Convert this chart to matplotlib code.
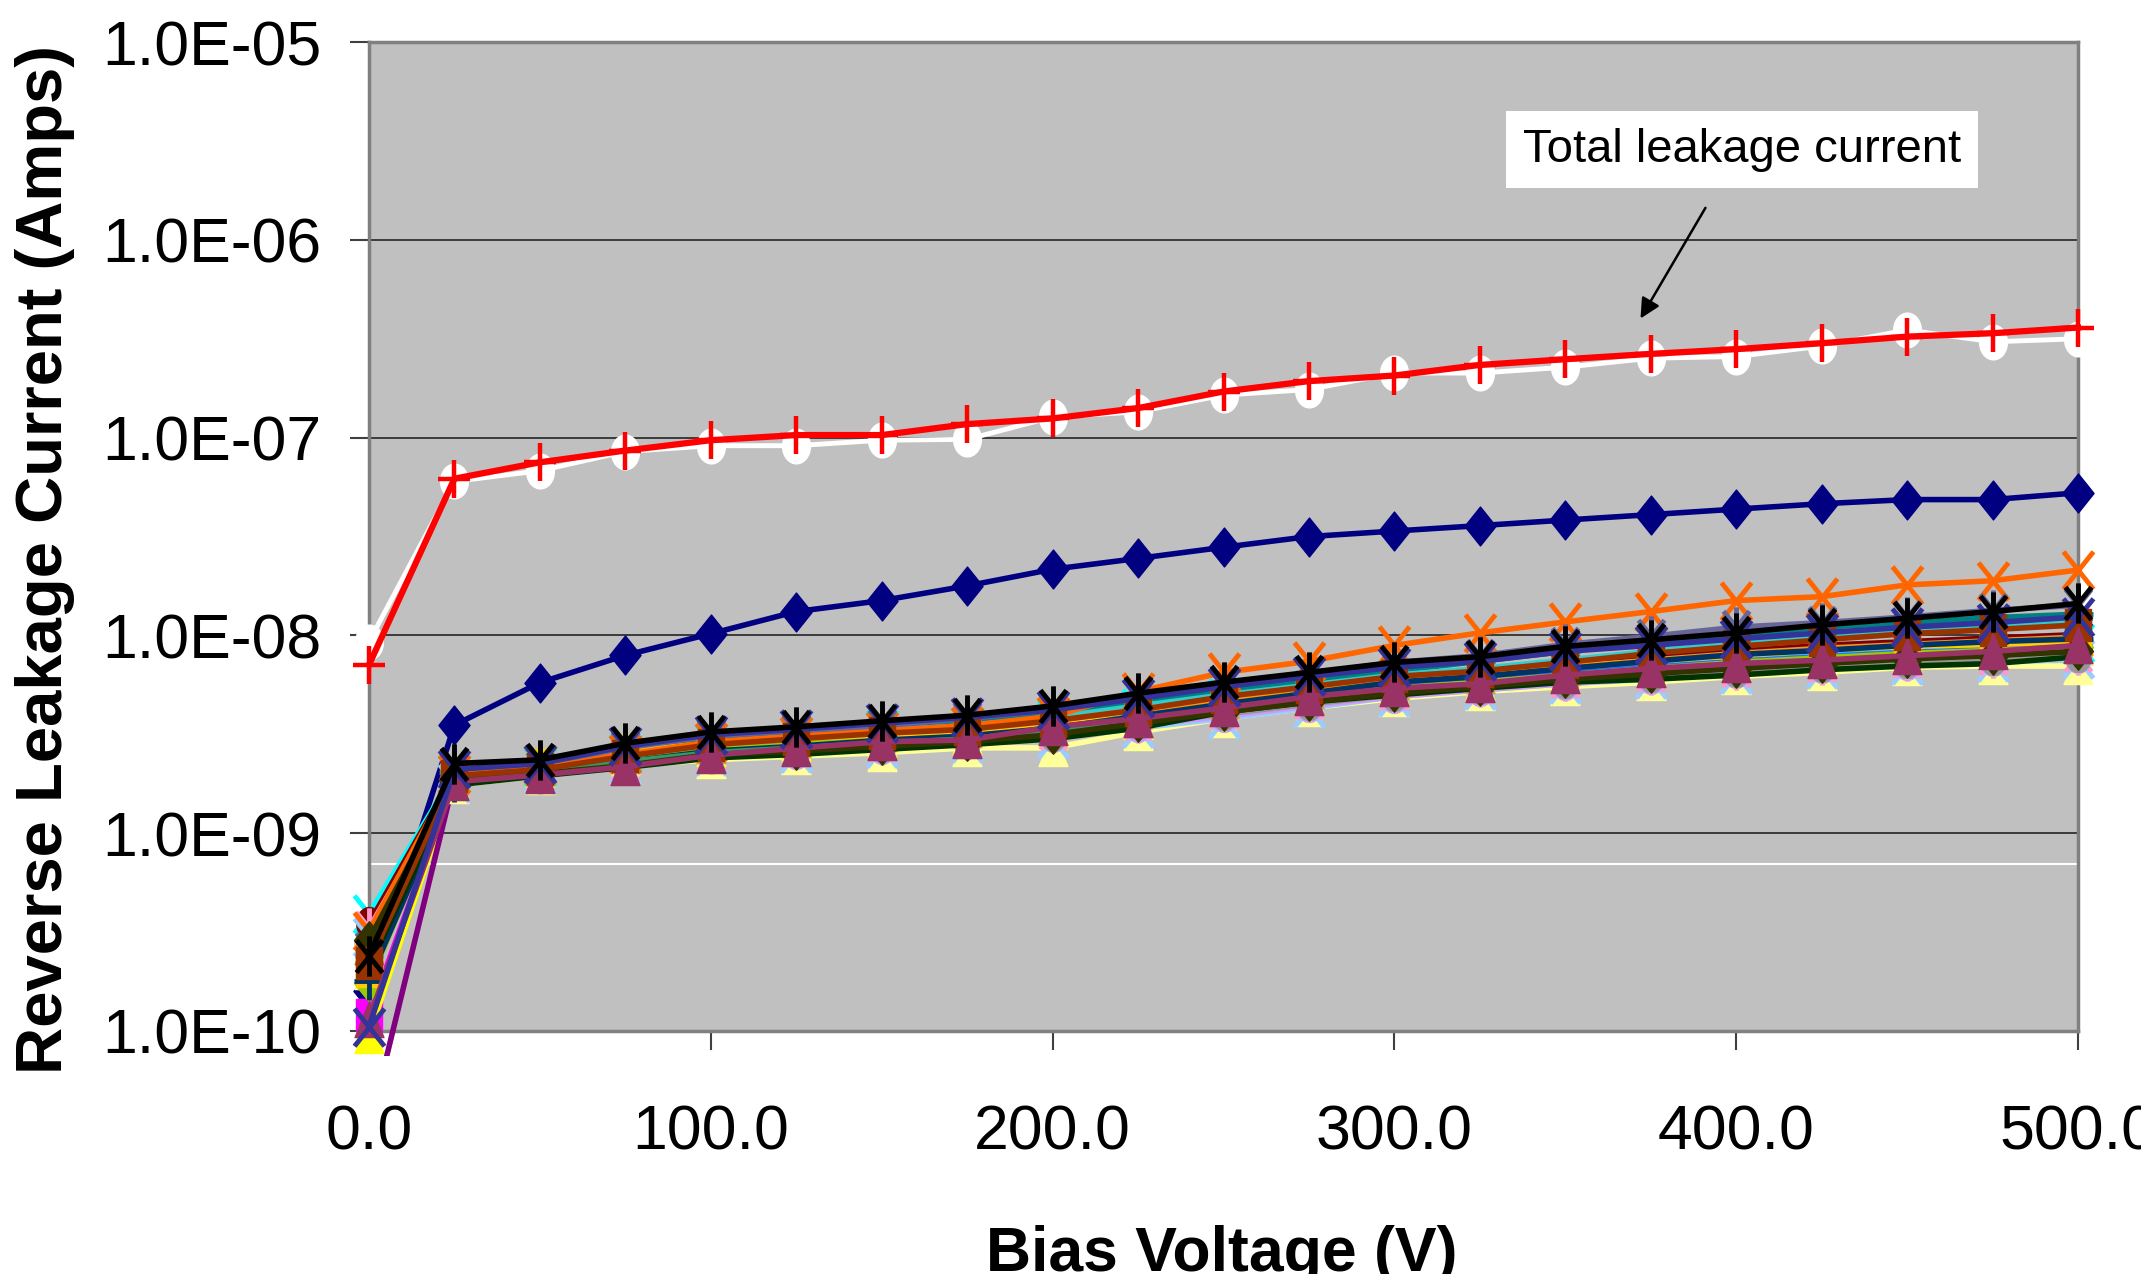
import numpy as np
import matplotlib
matplotlib.use("Agg")
import matplotlib.pyplot as plt
from matplotlib.path import Path
from matplotlib.markers import MarkerStyle
from matplotlib.transforms import Affine2D
from matplotlib.patches import Rectangle

plt.rcParams["font.family"] = ["Liberation Sans", "DejaVu Sans"]

# Bias voltage (V)
tensao = [0, 25, 50, 75, 100, 125, 150, 175, 200, 225, 250,
          275, 300, 325, 350, 375, 400, 425, 450, 475, 500]

# currents in nA
total_cruz = [7.1, 62, 75, 86, 97, 103, 103, 117, 125, 141, 171,
              193, 206, 233, 249, 265, 280, 300, 324, 337, 360]
total_circ = [9.3, 60, 68, 85, 91, 91, 97, 98, 127, 135, 164,
              175, 212, 212, 227, 252, 257, 290, 350, 305, 316]

serie_01 = [0.16, 3.52, 5.77, 7.93, 10.2, 13.2, 15.0, 17.8, 21.6, 24.5, 27.9,
            31.6, 33.7, 35.9, 38.3, 40.8, 43.5, 46.3, 48.6, 48.6, 52.6]
serie_02 = [0.12, 1.9, 2.15, 2.55, 2.9, 3.1, 3.3, 3.45, 3.7, 4.1, 4.6,
            5.2, 6.0, 6.3, 6.9, 7.6, 8.3, 8.9, 9.1, 9.4, 9.8]
serie_03 = [0.095, 1.85, 2.1, 2.45, 2.7, 2.85, 3.0, 3.1, 3.3, 3.7, 4.3,
            4.9, 5.5, 5.8, 6.4, 6.9, 7.3, 7.8, 8.1, 8.4, 8.7]
serie_04 = [0.39, 2.0, 2.15, 2.55, 2.85, 3.1, 3.35, 3.5, 3.8, 4.3, 4.8,
            5.3, 5.9, 6.3, 6.8, 7.3, 7.8, 8.3, 8.7, 9.0, 9.2]
serie_05 = [0.032, 1.9, 2.1, 2.4, 2.75, 2.95, 3.15, 3.3, 3.6, 4.1, 4.6,
            5.2, 5.8, 6.2, 6.7, 7.3, 7.9, 8.4, 8.8, 9.1, 9.6]
serie_06 = [0.35, 2.0, 2.2, 2.55, 2.9, 3.1, 3.3, 3.5, 3.8, 4.4, 4.9,
            5.5, 6.2, 6.6, 7.1, 7.7, 8.3, 8.9, 9.3, 9.7, 10.1]
serie_07 = [0.28, 2.05, 2.2, 2.6, 3.0, 3.2, 3.45, 3.65, 4.0, 4.6, 5.2,
            5.9, 6.6, 7.4, 8.3, 9.2, 10.0, 11.0, 11.6, 12.3, 12.8]
serie_08 = [0.25, 1.95, 2.15, 2.5, 2.85, 3.05, 3.25, 3.4, 3.75, 4.3, 4.8,
            5.4, 6.0, 6.4, 6.9, 7.5, 8.1, 8.6, 9.0, 9.4, 9.8]
serie_09 = [0.3, 1.9, 2.1, 2.45, 2.75, 2.95, 3.1, 3.3, 3.6, 4.1, 4.6,
            5.1, 5.7, 6.1, 6.6, 7.1, 7.6, 8.0, 8.4, 8.7, 9.0]
serie_10 = [0.27, 1.8, 2.0, 2.3, 2.6, 2.75, 2.9, 3.05, 3.3, 3.8, 4.2,
            4.7, 5.2, 5.6, 6.0, 6.5, 6.9, 7.3, 7.6, 7.9, 8.2]
serie_11 = [0.23, 1.85, 2.05, 2.35, 2.65, 2.8, 2.95, 3.1, 3.4, 3.9, 4.3,
            4.8, 5.3, 5.7, 6.2, 6.6, 7.0, 7.4, 7.8, 8.1, 8.4]
serie_12 = [0.2, 1.75, 1.95, 2.2, 2.35, 2.45, 2.55, 2.7, 2.7, 3.25, 3.8,
            4.3, 4.8, 5.2, 5.5, 5.8, 6.2, 6.5, 6.9, 7.0, 7.0]
serie_13 = [0.3, 1.8, 2.0, 2.25, 2.45, 2.55, 2.7, 2.85, 3.0, 3.4, 3.8,
            4.3, 4.9, 5.3, 5.7, 6.0, 6.4, 6.8, 7.1, 7.3, 7.6]
serie_14 = [0.33, 1.85, 2.0, 2.25, 2.5, 2.65, 2.8, 2.95, 3.2, 3.6, 4.1,
            4.6, 5.1, 5.5, 5.9, 6.3, 6.7, 7.1, 7.4, 7.7, 8.0]
serie_15 = [0.26, 1.8, 1.95, 2.2, 2.45, 2.55, 2.7, 2.85, 3.1, 3.5, 3.9,
            4.4, 4.9, 5.3, 5.7, 6.1, 6.5, 6.9, 7.2, 7.5, 7.8]
serie_16 = [0.28, 1.85, 2.05, 2.3, 2.6, 2.7, 2.85, 3.0, 3.3, 3.7, 4.1,
            4.6, 5.1, 5.5, 6.0, 6.4, 6.8, 7.2, 7.5, 7.8, 8.1]
serie_17 = [0.22, 1.9, 2.1, 2.4, 2.7, 2.85, 3.0, 3.2, 3.5, 4.0, 4.5,
            5.0, 5.5, 5.9, 6.4, 6.9, 7.4, 7.8, 8.2, 8.5, 8.8]
serie_18 = [0.31, 2.0, 2.2, 2.5, 2.85, 3.05, 3.3, 3.5, 3.85, 4.4, 5.0,
            5.6, 6.3, 6.8, 7.5, 8.3, 9.1, 9.9, 10.6, 11.3, 11.9]
serie_19 = [0.175, 1.85, 2.05, 2.35, 2.65, 2.8, 3.0, 3.15, 3.45, 3.9, 4.4,
            4.9, 5.4, 5.8, 6.3, 6.8, 7.3, 7.7, 8.1, 8.4, 8.7]
serie_20 = [0.2, 1.95, 2.2, 2.6, 2.85, 3.0, 3.15, 3.3, 3.6, 4.2, 4.8,
            5.3, 5.9, 6.4, 7.0, 7.4, 7.9, 8.4, 8.8, 9.0, 9.3]
serie_21 = [0.27, 1.95, 2.15, 2.5, 2.8, 3.0, 3.2, 3.35, 3.7, 4.2, 4.7,
            5.3, 5.9, 6.3, 6.9, 7.5, 8.1, 8.6, 9.0, 9.4, 9.8]
serie_22 = [0.32, 2.0, 2.2, 2.5, 2.9, 3.1, 3.3, 3.5, 3.9, 5.2, 6.5,
            7.4, 8.9, 10.3, 11.7, 13.2, 15.0, 15.7, 18.0, 18.9, 21.4]
serie_23 = [0.26, 2.1, 2.25, 2.7, 3.1, 3.3, 3.5, 3.8, 4.2, 4.9, 5.6,
            6.4, 7.3, 7.9, 9.0, 9.9, 11.0, 11.6, 12.4, 13.4, 14.2]
serie_24 = [0.25, 1.8, 1.95, 2.2, 2.45, 2.6, 2.75, 2.9, 3.15, 3.6, 4.0,
            4.5, 5.0, 5.4, 5.8, 6.2, 6.6, 7.0, 7.3, 7.6, 7.9]
serie_25 = [0.18, 1.8, 2.05, 2.3, 2.6, 2.75, 2.95, 3.1, 3.4, 3.9, 4.5,
            5.1, 5.8, 6.2, 6.8, 7.4, 8.0, 8.4, 8.9, 9.3, 9.6]
serie_26 = [0.24, 1.85, 2.0, 2.3, 2.55, 2.7, 2.85, 3.0, 3.3, 3.7, 4.2,
            4.7, 5.2, 5.6, 6.1, 6.5, 7.0, 7.4, 7.8, 8.1, 8.4]
serie_27 = [0.21, 1.75, 1.95, 2.15, 2.4, 2.5, 2.65, 2.8, 3.0, 3.4, 4.1,
            4.6, 5.0, 5.4, 5.8, 6.0, 6.3, 6.7, 7.0, 7.2, 7.8]
serie_28 = [0.29, 1.85, 2.0, 2.2, 2.5, 2.6, 2.75, 2.9, 3.15, 3.6, 4.1,
            4.6, 5.1, 5.5, 6.0, 6.4, 6.8, 7.2, 7.6, 7.9, 8.3]
serie_29 = [0.22, 1.95, 2.1, 2.45, 2.8, 3.0, 3.2, 3.35, 3.7, 4.2, 4.9,
            5.5, 6.2, 6.6, 7.3, 8.1, 8.8, 9.5, 10.2, 10.7, 11.3]
serie_30 = [0.115, 1.82, 1.97, 2.17, 2.48, 2.69, 2.9, 2.96, 3.45, 3.8, 4.3,
            4.9, 5.4, 5.7, 6.3, 6.8, 7.2, 7.5, 7.9, 8.3, 8.9]
serie_31 = [0.105, 2.1, 2.25, 2.75, 3.15, 3.35, 3.6, 3.85, 4.2, 4.8, 5.5,
            6.2, 6.9, 7.4, 8.3, 8.9, 9.6, 10.3, 11.0, 11.6, 12.4]
serie_32 = [0.24, 2.25, 2.35, 2.85, 3.25, 3.45, 3.7, 3.95, 4.4, 5.1, 5.8,
            6.5, 7.3, 7.8, 8.8, 9.5, 10.3, 11.3, 12.2, 13.2, 14.5]

yticks = [1e-10, 1e-9, 1e-8, 1e-7, 1e-6, 1e-5]
ytick_labels = ["1.0E-10", "1.0E-09", "1.0E-08", "1.0E-07", "1.0E-06", "1.0E-05"]
xticks = [0, 100, 200, 300, 400, 500]
xtick_labels = ["0.0", "100.0", "200.0", "300.0", "400.0", "500.0"]

# excel default palette, in series order
cores = ["#000080", "#FF00FF", "#FFFF00", "#00FFFF", "#800080", "#800000", "#008080", "#0000FF",
         "#00CCFF", "#CCFFFF", "#CCFFCC", "#FFFF99", "#99CCFF", "#FF99CC", "#CC99FF", "#FFCC99",
         "#3366FF", "#33CCCC", "#99CC00", "#FFCC00", "#FF9900", "#FF6600", "#666699", "#969696",
         "#003366", "#339966", "#003300", "#333300", "#993300", "#993366", "#333399", "#000000"]
ciclo = ["D", "s", "^", "x", "star", "o", "+", "_", None]

STRETCH = 1.25


def esticado(m):
    # markers look taller than wide in the original
    if m == "star":
        p = Path([(-.5, -.5), (.5, .5), (-.5, .5), (.5, -.5), (0, -.62), (0, .62)],
                 [Path.MOVETO, Path.LINETO, Path.MOVETO, Path.LINETO, Path.MOVETO, Path.LINETO])
    else:
        ms = MarkerStyle(m)
        p = ms.get_path().transformed(ms.get_transform())
    return p.transformed(Affine2D().scale(1, STRETCH))


tamanho = {"D": 27, "s": 23, "^": 26, "x": 27, "star": 29, "o": 23, "+": 27, "_": 20}
aberto = {"x", "star", "+", "_"}

fig = plt.figure(figsize=(21.41, 12.74), dpi=100)
ax = fig.add_axes([369 / 2141, 243 / 1274, 1709 / 2141, 989 / 1274])
ax.set_facecolor("#C0C0C0")
ax.set_yscale("log")
ax.set_xlim(0, 500)
ax.set_ylim(1e-10, 1e-5)

clip = Rectangle((-0.035, -0.025), 1.07, 1.05, transform=ax.transAxes)

series = [serie_01, serie_02, serie_03, serie_04, serie_05, serie_06, serie_07, serie_08,
          serie_09, serie_10, serie_11, serie_12, serie_13, serie_14, serie_15, serie_16,
          serie_17, serie_18, serie_19, serie_20, serie_21, serie_22, serie_23, serie_24,
          serie_25, serie_26, serie_27, serie_28, serie_29, serie_30, serie_31, serie_32]

for i, valores in enumerate(series):
    cor = cores[i]
    m = ciclo[i % 9]
    y = np.array(valores) * 1e-9
    if m is None:
        ln, = ax.plot(tensao, y, color=cor, lw=4, zorder=3)
    elif m in aberto:
        ln, = ax.plot(tensao, y, color=cor, lw=4, marker=esticado(m), ms=tamanho[m],
                      mfc="none", mec=cor, mew=3.5, zorder=3)
    else:
        ms = 28 if i == 0 else tamanho[m]
        ln, = ax.plot(tensao, y, color=cor, lw=4, marker=esticado(m), ms=ms,
                      mfc=cor, mec=cor, mew=1, zorder=3)
    ln.set_clip_path(clip)

# total leakage current
ln, = ax.plot(tensao, np.array(total_circ) * 1e-9, color="white", lw=3.5,
              marker=esticado("o"), ms=25, mfc="white", mec="white", zorder=4)
ln.set_clip_path(clip)
ln, = ax.plot(tensao, np.array(total_cruz) * 1e-9, color="#FF0000", lw=4.5,
              marker=esticado("+"), ms=28, mfc="none", mec="#FF0000", mew=3.2, zorder=5)
ln.set_clip_path(clip)

ax.set_axisbelow(True)
ax.grid(axis="y", which="major", color="#303030", lw=1.3)
ax.axhline(7e-10, color="white", lw=1.5, zorder=1)

ax.set_yticks(yticks)
ax.set_yticklabels(ytick_labels)
ax.yaxis.set_minor_locator(matplotlib.ticker.NullLocator())
ax.set_xticks(xticks)
ax.set_xticklabels(xtick_labels)
ax.tick_params(axis="y", direction="out", length=14, width=1.5, color="#404040",
               labelsize=45, pad=20)
ax.tick_params(axis="x", direction="out", length=14, width=1.5, color="#404040",
               labelsize=45, pad=38)

for lado in ["left", "right", "top", "bottom"]:
    ax.spines[lado].set_color("#808080")
    ax.spines[lado].set_linewidth(2.5)

fig.text(45 / 2141, 1 - 560 / 1274, "Reverse Leakage Current (Amps)", rotation=90,
         fontsize=47, fontweight="bold", ha="center", va="center")
fig.text(1222 / 2141, 0.002, "Bias Voltage (V)", fontsize=45, fontweight="bold",
         ha="center", va="baseline")

ax.annotate("", xy=(372, 4.0e-7), xytext=(391, 1.45e-6),
            arrowprops=dict(arrowstyle="-|>", color="black", lw=1.8,
                            mutation_scale=30, shrinkA=0, shrinkB=0))
ax.text(401.7, 2.86e-6, "Total leakage current", fontsize=34, ha="center", va="center",
        bbox=dict(boxstyle="square,pad=0.35", fc="white", ec="none"), zorder=6)

fig.savefig("out.png", dpi=100)
